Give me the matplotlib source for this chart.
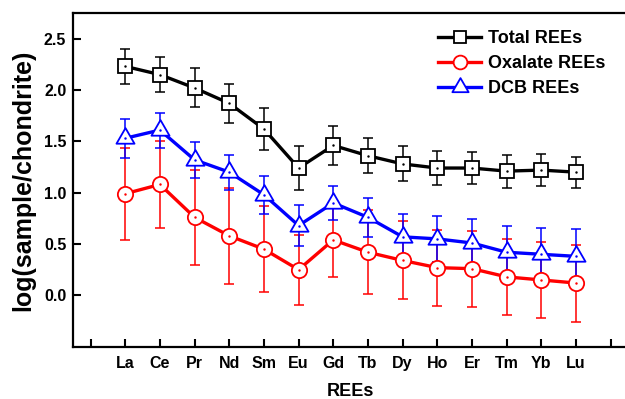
import numpy as np
import matplotlib
matplotlib.use('Agg')
import matplotlib.pyplot as plt
from matplotlib.path import Path
from matplotlib.lines import Line2D

plt.rcParams['font.family'] = ['Liberation Sans', 'DejaVu Sans']
plt.rcParams['font.weight'] = 'bold'

# data
elements = ['La', 'Ce', 'Pr', 'Nd', 'Sm', 'Eu', 'Gd', 'Tb', 'Dy', 'Ho', 'Er', 'Tm', 'Yb', 'Lu']
total = [2.23, 2.15, 2.02, 1.87, 1.62, 1.24, 1.46, 1.36, 1.28, 1.24, 1.24, 1.21, 1.22, 1.20]
total_err = [0.17, 0.17, 0.19, 0.19, 0.20, 0.21, 0.19, 0.17, 0.17, 0.17, 0.16, 0.16, 0.155, 0.15]
oxalate = [0.99, 1.08, 0.76, 0.58, 0.45, 0.25, 0.54, 0.42, 0.34, 0.27, 0.26, 0.18, 0.15, 0.12]
oxalate_err = [0.45, 0.42, 0.46, 0.47, 0.42, 0.34, 0.36, 0.41, 0.38, 0.37, 0.37, 0.37, 0.37, 0.375]
dcb = [1.53, 1.61, 1.32, 1.20, 0.98, 0.68, 0.90, 0.76, 0.57, 0.55, 0.51, 0.42, 0.40, 0.38]
dcb_err = [0.19, 0.17, 0.175, 0.17, 0.185, 0.20, 0.165, 0.19, 0.22, 0.225, 0.235, 0.26, 0.26, 0.27]

x = np.arange(1, len(elements) + 1)

# equilateral triangle centred on its centroid (origin style)
h = np.sqrt(3) / 2
tri = Path([(0, 2 * h / 3), (-0.5, -h / 3), (0.5, -h / 3), (0, 2 * h / 3)],
           [Path.MOVETO, Path.LINETO, Path.LINETO, Path.CLOSEPOLY])

series = [
    ('Total REEs', total, total_err, 'black', 's', 10),
    ('Oxalate REEs', oxalate, oxalate_err, '#ff0000', 'o', 11),
    ('DCB REEs', dcb, dcb_err, '#0000ff', tri, 15),
]

fig = plt.figure(figsize=(6.25, 3.99), dpi=100)
ax = fig.add_axes([73.2 / 625, 1 - 346.7 / 399, (628 - 73.2) / 625, (346.7 - 13) / 399])

handles = []
for label, y, err, c, m, ms in series:
    ax.errorbar(x, y, yerr=err, fmt='none', ecolor=c, elinewidth=1.1,
                capsize=3.4, capthick=1.1, zorder=2)
    ax.plot(x, y, '-', color=c, lw=2.4, zorder=3)
    ax.plot(x, y, linestyle='none', marker=m, ms=ms, mfc='white', mec=c, mew=1.3, zorder=4)
    ax.plot(x, y, linestyle='none', marker='.', ms=1.5, color=c, zorder=5)
    handles.append(Line2D([], [], color=c, lw=2.4, marker=m, ms=ms * 0.9,
                          mfc='white', mec=c, mew=1.3))

ax.set_xlim(-0.5, 15.5)
ax.set_ylim(-0.5, 2.75)
ax.set_xticks(np.arange(0, 16))
ax.set_xticklabels([''] + elements + [''])
ax.set_yticks([0.0, 0.5, 1.0, 1.5, 2.0, 2.5])
ax.set_yticklabels(['0.0', '0.5', '1.0', '1.5', '2.0', '2.5'])
ax.tick_params(direction='in', length=6, width=1.5, labelsize=11.5)
ax.tick_params(axis='x', pad=7)
ax.tick_params(axis='y', pad=5)
for s in ax.spines.values():
    s.set_linewidth(1.6)

ax.set_xlabel('REEs', fontsize=13, fontweight='bold', labelpad=8)
ax.set_ylabel('log(sample/chondrite)', fontsize=18, fontweight='bold', labelpad=6)

fig.legend(handles, [s[0] for s in series], loc='upper left',
           bbox_to_anchor=(438 / 625, 1 - 30 / 399), frameon=False,
           fontsize=13, handlelength=2.4, handletextpad=0.35,
           labelspacing=0.45, borderpad=0, borderaxespad=0, numpoints=1)

fig.savefig('out.png', dpi=100)
